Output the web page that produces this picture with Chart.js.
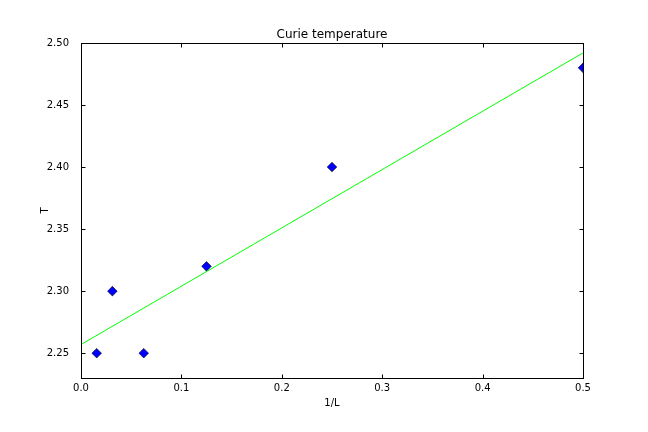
<!DOCTYPE html>
<html>
<head>
<meta charset="utf-8">
<script src="https://cdn.jsdelivr.net/npm/chart.js@4/dist/chart.umd.min.js"></script>
<style>
  html, body { margin: 0; padding: 0; background: #ffffff; }
  #wrap { width: 648px; height: 432px; }
</style>
</head>
<body>
<div id="wrap"><canvas id="c" width="648" height="432"></canvas></div>
<script>
// ---- data ----
const invL = [0.015625, 0.03125, 0.0625, 0.125, 0.25, 0.5];
const tempT = [2.25, 2.30, 2.25, 2.32, 2.40, 2.48];
const fitX = [0.0, 0.5];
const fitY = [2.257, 2.492];
const xTicks = [0.0, 0.1, 0.2, 0.3, 0.4, 0.5];
const yTicks = [2.25, 2.30, 2.35, 2.40, 2.45, 2.50];
const chartTitle = 'Curie temperature';
const xLabel = '1/L';
const yLabel = 'T';

const FONT = '"DejaVu Sans", sans-serif';

const framePlugin = {
  id: 'frame',
  afterDatasetsDraw(chart) {
    const ctx = chart.ctx;
    const a = chart.chartArea;
    const xs = chart.scales.x, ys = chart.scales.y;
    const L = Math.round(a.left) + 0.5, R = Math.round(a.right) + 0.5;
    const T = Math.round(a.top) + 0.5, B = Math.round(a.bottom) + 0.5;
    ctx.save();
    ctx.strokeStyle = '#000000';
    ctx.lineWidth = 1;
    ctx.beginPath();
    const tl = 4;
    xTicks.forEach(v => {
      const px = Math.round(xs.getPixelForValue(v)) + 0.5;
      ctx.moveTo(px, B); ctx.lineTo(px, B - tl);
      ctx.moveTo(px, T); ctx.lineTo(px, T + tl);
    });
    yTicks.forEach(v => {
      const py = Math.round(ys.getPixelForValue(v)) + 0.5;
      ctx.moveTo(L, py); ctx.lineTo(L + tl, py);
      ctx.moveTo(R, py); ctx.lineTo(R - tl, py);
    });
    ctx.stroke();
    ctx.strokeRect(L, T, R - L, B - T);
    ctx.fillStyle = '#000000';
    ctx.textAlign = 'center';
    ctx.textBaseline = 'alphabetic';
    ctx.font = '12px ' + FONT;
    ctx.fillText(chartTitle, (a.left + a.right) / 2, 38);
    ctx.font = '10px ' + FONT;
    ctx.fillText(xLabel, (a.left + a.right) / 2, 406);
    ctx.save();
    ctx.translate(48, (a.top + a.bottom) / 2);
    ctx.rotate(-Math.PI / 2);
    ctx.fillText(yLabel, 0, 0);
    ctx.restore();
    ctx.restore();
  }
};

new Chart(document.getElementById('c'), {
  type: 'scatter',
  data: {
    datasets: [
      {
        label: 'T',
        data: invL.map((x, i) => ({ x: x, y: tempT[i] })),
        pointStyle: 'rectRot',
        pointRadius: 4.8,
        backgroundColor: '#0000ff',
        borderColor: '#000000',
        borderWidth: 0.6,
        showLine: false,
        clip: 0,
        order: 2
      },
      {
        label: 'fit',
        type: 'line',
        data: fitX.map((x, i) => ({ x: x, y: fitY[i] })),
        borderColor: '#00ff00',
        borderWidth: 1,
        pointRadius: 0,
        fill: false,
        clip: 0,
        order: 1
      }
    ]
  },
  options: {
    responsive: false,
    animation: false,
    devicePixelRatio: 1,
    layout: { padding: { left: 0, right: 65, top: 43, bottom: 0 } },
    plugins: {
      legend: { display: false },
      tooltip: { enabled: false },
      title: { display: false }
    },
    scales: {
      x: {
        type: 'linear',
        min: 0,
        max: 0.5,
        grid: { display: false },
        border: { display: false },
        afterBuildTicks(scale) { scale.ticks = xTicks.map(v => ({ value: v })); },
        afterFit(scale) { scale.height = 54; },
        ticks: {
          color: '#000000',
          font: { family: FONT, size: 10 },
          padding: -4,
          maxRotation: 0,
          autoSkip: false,
          callback: v => Number(v).toFixed(1)
        }
      },
      y: {
        type: 'linear',
        min: 2.23,
        max: 2.50,
        grid: { display: false },
        border: { display: false },
        afterBuildTicks(scale) { scale.ticks = yTicks.map(v => ({ value: v })); },
        afterFit(scale) { scale.width = 81; },
        ticks: {
          color: '#000000',
          font: { family: FONT, size: 10 },
          padding: 4,
          autoSkip: false,
          callback: v => Number(v).toFixed(2)
        }
      }
    }
  },
  plugins: [framePlugin]
});
</script>
</body>
</html>
